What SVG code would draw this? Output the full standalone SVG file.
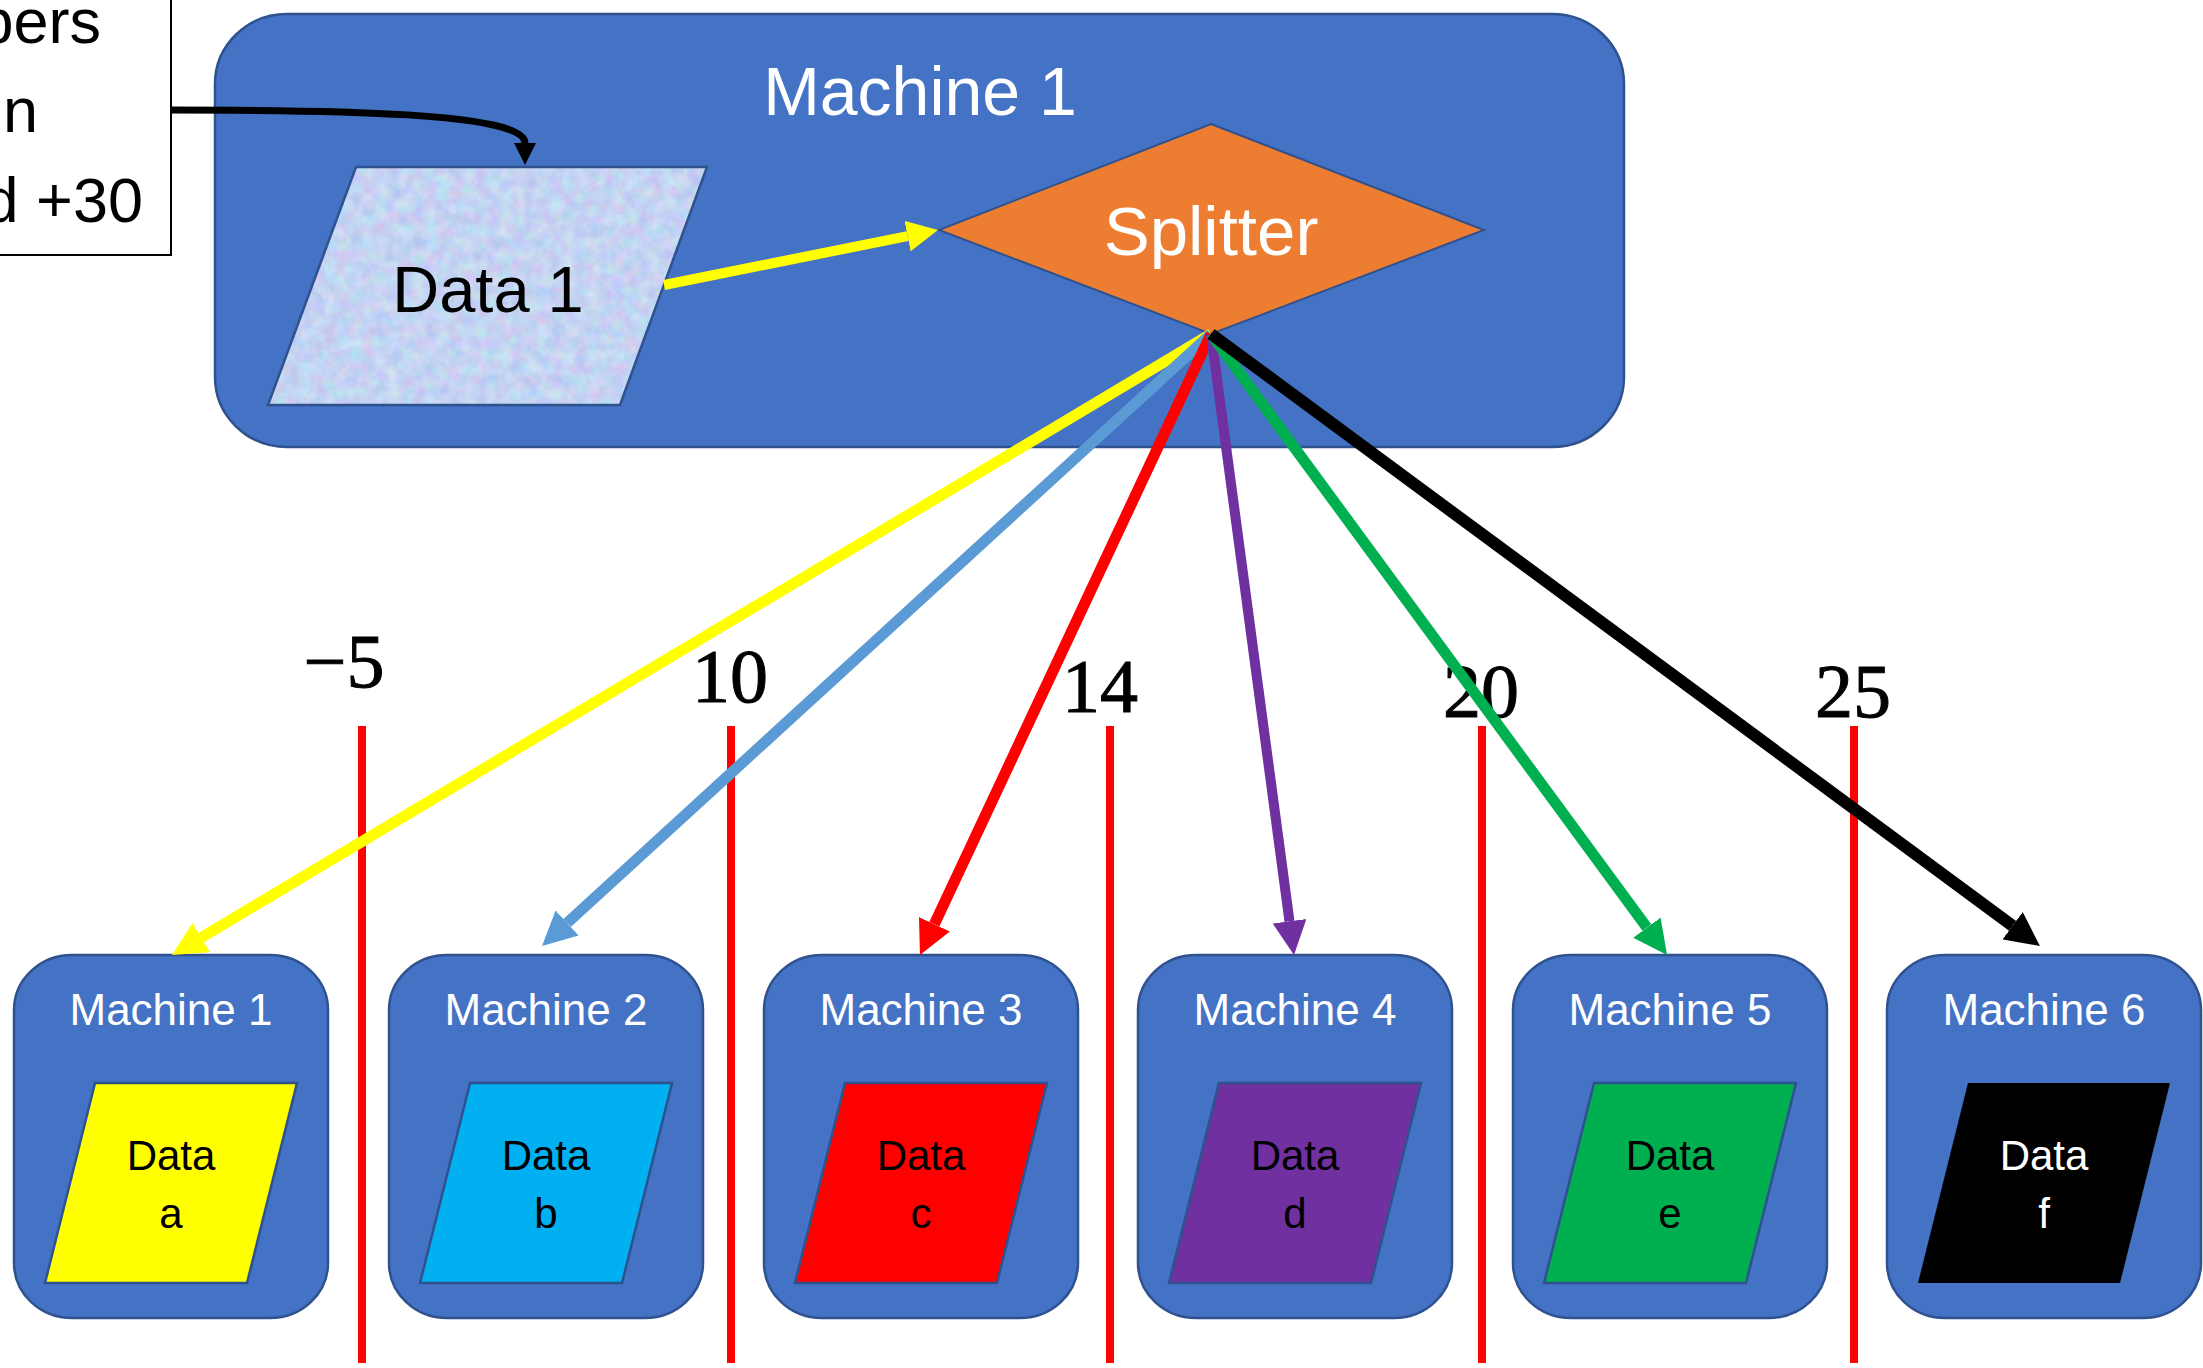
<svg xmlns="http://www.w3.org/2000/svg" width="2203" height="1368" viewBox="0 0 2203 1368">
  <style>
    .machine { fill: #4472C4; stroke: #2F528F; stroke-width: 2.5; }
    .title { font-family: "Liberation Sans", Arial, sans-serif; fill: #FFFFFF; text-anchor: middle; }
    .lbl { font-family: "Liberation Sans", Arial, sans-serif; text-anchor: middle; font-size: 42px; }
    .data { stroke: #2F528F; stroke-width: 2.5; }
    .note { font-family: "Liberation Sans", Arial, sans-serif; font-size: 63px; fill: #000; text-anchor: end; }
    .num { font-family: "Liberation Serif", "Times New Roman", serif; font-size: 76px; fill: #000; stroke: #000; stroke-width: 1; text-anchor: middle; }
    .cut { stroke: #FF0000; stroke-width: 8; }
    .wire { fill: none; }
  </style>
  <defs>
    <!-- soft tissue-paper fill for the source data block -->
    <filter id="tissue" x="0" y="0" width="100%" height="100%" color-interpolation-filters="sRGB">
      <feTurbulence type="fractalNoise" baseFrequency="0.08" numOctaves="3" seed="7" result="n"/>
      <feColorMatrix in="n" type="matrix" values="0.22 0 0 0 0.66  0 0.2 0 0 0.73  0 0 0.1 0 0.9  0 0 0 0 1" result="c"/>
      <feComposite in="c" in2="SourceGraphic" operator="in"/>
    </filter>
    <marker id="hk-small" markerUnits="userSpaceOnUse" markerWidth="22" markerHeight="22" refX="0" refY="11" orient="auto" viewBox="0 0 22 22">
      <path d="M0,0 L22,11 L0,22 z" fill="#000"/>
    </marker>
    <marker id="hy-in" markerUnits="userSpaceOnUse" markerWidth="31" markerHeight="31" refX="0" refY="15.5" orient="auto" viewBox="0 0 31 31">
      <path d="M0,0 L31,15.5 L0,31 z" fill="#FFFF00"/>
    </marker>
    <marker id="hy" markerUnits="userSpaceOnUse" markerWidth="34" markerHeight="34" refX="0" refY="17" orient="auto" viewBox="0 0 34 34">
      <path d="M0,0 L34,17 L0,34 z" fill="#FFFF00"/>
    </marker>
    <marker id="hb" markerUnits="userSpaceOnUse" markerWidth="34" markerHeight="34" refX="0" refY="17" orient="auto" viewBox="0 0 34 34">
      <path d="M0,0 L34,17 L0,34 z" fill="#5B9BD5"/>
    </marker>
    <marker id="hr" markerUnits="userSpaceOnUse" markerWidth="34" markerHeight="34" refX="0" refY="17" orient="auto" viewBox="0 0 34 34">
      <path d="M0,0 L34,17 L0,34 z" fill="#FF0000"/>
    </marker>
    <marker id="hp" markerUnits="userSpaceOnUse" markerWidth="34" markerHeight="34" refX="0" refY="17" orient="auto" viewBox="0 0 34 34">
      <path d="M0,0 L34,17 L0,34 z" fill="#7030A0"/>
    </marker>
    <marker id="hg" markerUnits="userSpaceOnUse" markerWidth="34" markerHeight="34" refX="0" refY="17" orient="auto" viewBox="0 0 34 34">
      <path d="M0,0 L34,17 L0,34 z" fill="#00B050"/>
    </marker>
    <marker id="hk" markerUnits="userSpaceOnUse" markerWidth="34" markerHeight="34" refX="0" refY="17" orient="auto" viewBox="0 0 34 34">
      <path d="M0,0 L34,17 L0,34 z" fill="#000"/>
    </marker>
  </defs>

  <rect x="0" y="0" width="2203" height="1368" fill="#FFFFFF"/>

  <!-- note box, running off the top-left edge -->
  <g id="note">
    <rect x="-20" y="-20" width="191" height="275" fill="#FFFFFF" stroke="#000" stroke-width="2"/>
    <text class="note" x="101" y="43">bers</text>
    <text class="note" x="38" y="132">n</text>
    <text class="note" x="143" y="222">d +30</text>
  </g>

  <!-- source machine -->
  <g id="machine-main">
    <rect class="machine" x="215" y="14" width="1409" height="433" rx="72" ry="70"/>
    <text class="title" x="920" y="115" font-size="68">Machine 1</text>
  </g>

  <g id="data-1">
    <polygon points="356,167 707,167 620,405 268,405" fill="#C3D3F0"/>
    <polygon points="356,167 707,167 620,405 268,405" fill="#C3D3F0" filter="url(#tissue)"/>
    <polygon points="356,167 707,167 620,405 268,405" fill="none" class="data"/>
    <text x="488" y="312" font-family="Liberation Sans, Arial, sans-serif" font-size="65" text-anchor="middle" fill="#000">Data 1</text>
  </g>

  <g id="splitter">
    <polygon points="1211,124 1484,230 1211,334 939,230" fill="#ED7D31" stroke="#2F528F" stroke-width="2"/>
    <text class="title" x="1211" y="255" font-size="69">Splitter</text>
  </g>

  <!-- destination machines -->
  <g id="machine-a">
    <rect class="machine" x="14" y="955" width="314" height="363" rx="58" ry="55"/>
    <text class="title" x="171" y="1025" font-size="44">Machine 1</text>
    <polygon class="data" points="95,1083 297,1083 247,1283 45,1283" fill="#FFFF00"/>
    <text class="lbl" x="171" y="1170" fill="#000">Data</text>
    <text class="lbl" x="171" y="1228" fill="#000">a</text>
  </g>
  <g id="machine-b">
    <rect class="machine" x="389" y="955" width="314" height="363" rx="58" ry="55"/>
    <text class="title" x="546" y="1025" font-size="44">Machine 2</text>
    <polygon class="data" points="470,1083 672,1083 622,1283 420,1283" fill="#00B0F0"/>
    <text class="lbl" x="546" y="1170" fill="#000">Data</text>
    <text class="lbl" x="546" y="1228" fill="#000">b</text>
  </g>
  <g id="machine-c">
    <rect class="machine" x="764" y="955" width="314" height="363" rx="58" ry="55"/>
    <text class="title" x="921" y="1025" font-size="44">Machine 3</text>
    <polygon class="data" points="845,1083 1047,1083 997,1283 795,1283" fill="#FF0000"/>
    <text class="lbl" x="921" y="1170" fill="#000">Data</text>
    <text class="lbl" x="921" y="1228" fill="#000">c</text>
  </g>
  <g id="machine-d">
    <rect class="machine" x="1138" y="955" width="314" height="363" rx="58" ry="55"/>
    <text class="title" x="1295" y="1025" font-size="44">Machine 4</text>
    <polygon class="data" points="1219,1083 1421,1083 1371,1283 1169,1283" fill="#7030A0"/>
    <text class="lbl" x="1295" y="1170" fill="#000">Data</text>
    <text class="lbl" x="1295" y="1228" fill="#000">d</text>
  </g>
  <g id="machine-e">
    <rect class="machine" x="1513" y="955" width="314" height="363" rx="58" ry="55"/>
    <text class="title" x="1670" y="1025" font-size="44">Machine 5</text>
    <polygon class="data" points="1594,1083 1796,1083 1746,1283 1544,1283" fill="#00B050"/>
    <text class="lbl" x="1670" y="1170" fill="#000">Data</text>
    <text class="lbl" x="1670" y="1228" fill="#000">e</text>
  </g>
  <g id="machine-f">
    <rect class="machine" x="1887" y="955" width="314" height="363" rx="58" ry="55"/>
    <text class="title" x="2044" y="1025" font-size="44">Machine 6</text>
    <polygon points="1968,1083 2170,1083 2120,1283 1918,1283" fill="#000000"/>
    <text class="lbl" x="2044" y="1170" fill="#FFFFFF">Data</text>
    <text class="lbl" x="2044" y="1228" fill="#FFFFFF">f</text>
  </g>

  <!-- split boundaries -->
  <g id="boundaries">
    <line class="cut" x1="362" y1="726" x2="362" y2="1363"/>
    <line class="cut" x1="731" y1="726" x2="731" y2="1363"/>
    <line class="cut" x1="1110" y1="726" x2="1110" y2="1363"/>
    <line class="cut" x1="1482" y1="726" x2="1482" y2="1363"/>
    <line class="cut" x1="1854" y1="726" x2="1854" y2="1363"/>
    <text class="num" x="344" y="687">&#8722;5</text>
    <text class="num" x="730" y="702">10</text>
    <text class="num" x="1100" y="712">14</text>
    <text class="num" x="1481" y="717">20</text>
    <text class="num" x="1853" y="717">25</text>
  </g>

  <!-- connectors -->
  <g id="connectors">
    <path class="wire" d="M171,110 C330,110 525,112 525,143" stroke="#000" stroke-width="7" marker-end="url(#hk-small)"/>
    <line x1="664" y1="285" x2="907.6" y2="236.1" stroke="#FFFF00" stroke-width="10" marker-end="url(#hy-in)"/>
    <line x1="1211" y1="334" x2="201.2" y2="937.6" stroke="#FFFF00" stroke-width="11" marker-end="url(#hy)"/>
    <line x1="1211" y1="334" x2="567.1" y2="923.0" stroke="#5B9BD5" stroke-width="11" marker-end="url(#hb)"/>
    <line x1="1211" y1="334" x2="934.4" y2="924.2" stroke="#FF0000" stroke-width="11" marker-end="url(#hr)"/>
    <line x1="1211" y1="334" x2="1289.5" y2="921.3" stroke="#7030A0" stroke-width="10" marker-end="url(#hp)"/>
    <line x1="1211" y1="334" x2="1646.9" y2="927.6" stroke="#00B050" stroke-width="11" marker-end="url(#hg)"/>
    <line x1="1211" y1="334" x2="2012.6" y2="925.8" stroke="#000000" stroke-width="12" marker-end="url(#hk)"/>
  </g>
</svg>
